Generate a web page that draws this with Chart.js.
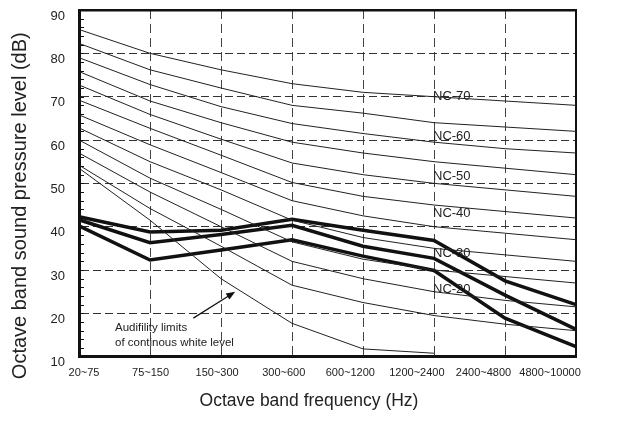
<!DOCTYPE html>
<html>
<head>
<meta charset="utf-8">
<script src="https://cdn.jsdelivr.net/npm/chart.js@4.4.1/dist/chart.umd.min.js"></script>
<style>
  html, body { margin: 0; padding: 0; background: #fff; }
  #c { display: block; }
</style>
</head>
<body>
<canvas id="c" width="618" height="436"></canvas>
<script>
// bandas de oitava
var bands = ['20~75', '75~150', '150~300', '300~600', '600~1200', '1200~2400', '2400~4800', '4800~10000'];

// curvas NC
var nc70 = [85.5, 80.0, 76.2, 73.0, 71.0, 70.0, 69.0, 68.0];
var nc65 = [82.3, 76.2, 72.0, 68.0, 66.2, 64.0, 63.0, 62.0];
var nc60 = [79.0, 72.8, 67.7, 63.8, 61.5, 59.5, 58.0, 57.0];
var nc55 = [75.8, 69.0, 64.0, 59.5, 57.0, 55.0, 53.5, 52.0];
var nc50 = [72.7, 65.9, 60.2, 54.7, 52.0, 50.0, 48.5, 47.0];
var nc45 = [69.2, 62.7, 56.5, 50.2, 47.0, 45.0, 43.5, 42.0];
var nc40 = [65.8, 58.9, 52.5, 46.0, 42.5, 40.0, 38.5, 37.0];
var nc35 = [62.8, 55.0, 48.5, 41.5, 37.5, 35.0, 33.5, 32.0];
var nc30 = [60.0, 51.2, 44.0, 36.5, 32.5, 30.0, 28.5, 27.0];
var nc25 = [57.0, 48.0, 40.0, 32.0, 28.0, 25.0, 23.0, 21.5];
var nc20 = [54.2, 44.2, 35.5, 26.5, 22.5, 19.5, 17.5, 16.0];
var audib = [53.5, 41.5, 28.0, 17.7, 11.8, 10.8, null, null];

// medicoes (linhas grossas)
var measA = [42.3, 38.8, 39.2, 41.7, 39.2, 36.8, 27.5, 22.0];
var measB = [41.6, 36.3, 38.2, 40.3, 35.5, 32.7, 24.2, 16.3];
var measC = [40.2, 32.3, 34.6, 37.0, 33.2, 29.9, 18.9, 12.3];

// rotulos das curvas (na banda 1200~2400)
var ncNames = ['NC-70', 'NC-60', 'NC-50', 'NC-40', 'NC-30', 'NC-20'];
var ncLabelY = [70.0, 60.8, 51.7, 43.1, 33.9, 25.6];
var ncLabelBand = 5;

var noteLines = ['Audifility limits', 'of continous white level'];
var noteX = 0.507, noteY = [16.6, 13.1];
var arrowFrom = [1.61, 18.9], arrowTo = [2.2, 25.0];

var yTicks = [10, 20, 30, 40, 50, 60, 70, 80, 90];

var FONT = '"Liberation Sans", Arial, sans-serif';
var thin = [nc70, nc65, nc60, nc55, nc50, nc45, nc40, nc35, nc30, nc25, nc20, audib];
var thick = [measA, measB, measC];

var datasets = [];
for (var i = 0; i < thin.length; i++) {
    datasets.push({ data: thin[i], borderColor: '#222', borderWidth: 1, pointRadius: 0, tension: 0, fill: false, spanGaps: false });
}
for (var j = 0; j < thick.length; j++) {
    datasets.push({ data: thick[j], borderColor: '#111', borderWidth: 3.5, pointRadius: 0, tension: 0, fill: false, borderJoinStyle: 'miter' });
}

function semPadding(s) {
    s.paddingTop = 0; s.paddingBottom = 0; s.paddingLeft = 0; s.paddingRight = 0;
}

var extras = {
    id: 'extras',
    afterDatasetsDraw: function (chart) {
        var ctx = chart.ctx, xs = chart.scales.x, ys = chart.scales.y;
        ctx.save();
        // marcas menores no eixo y
        ctx.strokeStyle = '#111';
        ctx.lineWidth = 1;
        for (var v = 12; v < 90; v += 2) {
            var py = Math.round(ys.getPixelForValue(v)) + 0.5;
            ctx.beginPath();
            ctx.moveTo(xs.left, py);
            ctx.lineTo(xs.left + 5, py);
            ctx.stroke();
        }
        // rotulos NC
        ctx.fillStyle = '#222';
        ctx.font = '13px ' + FONT;
        ctx.textAlign = 'left';
        ctx.textBaseline = 'middle';
        for (var k = 0; k < ncNames.length; k++) {
            ctx.fillText(ncNames[k], xs.getPixelForValue(ncLabelBand) - 1, ys.getPixelForValue(ncLabelY[k]));
        }
        // nota
        ctx.font = '11.5px ' + FONT;
        for (var n = 0; n < noteLines.length; n++) {
            ctx.fillText(noteLines[n], xs.getPixelForValue(noteX), ys.getPixelForValue(noteY[n]));
        }
        // seta
        var x1 = xs.getPixelForValue(arrowFrom[0]), y1 = ys.getPixelForValue(arrowFrom[1]);
        var x2 = xs.getPixelForValue(arrowTo[0]), y2 = ys.getPixelForValue(arrowTo[1]);
        var ang = Math.atan2(y2 - y1, x2 - x1);
        ctx.strokeStyle = '#111';
        ctx.lineWidth = 1.2;
        ctx.beginPath();
        ctx.moveTo(x1, y1);
        ctx.lineTo(x2 - 6 * Math.cos(ang), y2 - 6 * Math.sin(ang));
        ctx.stroke();
        ctx.fillStyle = '#111';
        ctx.beginPath();
        ctx.moveTo(x2, y2);
        ctx.lineTo(x2 - 9 * Math.cos(ang) + 3.5 * Math.sin(ang), y2 - 9 * Math.sin(ang) - 3.5 * Math.cos(ang));
        ctx.lineTo(x2 - 9 * Math.cos(ang) - 3.5 * Math.sin(ang), y2 - 9 * Math.sin(ang) + 3.5 * Math.cos(ang));
        ctx.closePath();
        ctx.fill();
        ctx.restore();
    }
};

new Chart(document.getElementById('c'), {
    type: 'line',
    data: { labels: bands, datasets: datasets },
    plugins: [extras],
    options: {
        responsive: false,
        animation: false,
        devicePixelRatio: 1,
        layout: { padding: { top: 0, left: 0, right: 0, bottom: 24.5 } },
        plugins: {
            legend: { display: false },
            tooltip: { enabled: false },
            title: {
                display: true, position: 'bottom', text: 'Octave band frequency (Hz)',
                color: '#222', font: { family: FONT, size: 17.5, weight: 'normal' },
                padding: { top: 4, bottom: 0 }
            },
            subtitle: {
                display: true, position: 'left', text: 'Octave band sound pressure level (dB)',
                color: '#222', font: { family: FONT, size: 20, weight: 'normal' },
                padding: { top: 8.5, bottom: 0 }
            }
        },
        scales: {
            x: {
                type: 'category', position: 'bottom', offset: false,
                ticks: { display: false },
                grid: { color: '#444', lineWidth: 1, drawTicks: false, offset: false },
                border: { display: true, color: '#111', width: 3, dash: [9, 5] },
                afterFit: function (s) { s.height = 0; semPadding(s); }
            },
            xl: {
                type: 'linear', position: 'bottom', min: -0.075, max: 7.39,
                afterBuildTicks: function (s) {
                    s.ticks = bands.map(function (b, i) { return { value: i }; });
                },
                ticks: {
                    autoSkip: false, maxRotation: 0, padding: 10, color: '#222',
                    font: { family: FONT, size: 11 },
                    callback: function (v) { return bands[v]; }
                },
                grid: { display: false, drawTicks: false },
                border: { display: false },
                afterFit: function (s) { s.height = 29.8; semPadding(s); }
            },
            xt: {
                type: 'linear', position: 'top', min: 0, max: 1,
                ticks: { display: false },
                grid: { display: false, drawTicks: false },
                border: { display: true, color: '#111', width: 2.5 },
                afterFit: function (s) { s.height = 10; semPadding(s); }
            },
            y: {
                type: 'linear', position: 'left', min: 10, max: 90,
                afterBuildTicks: function (s) {
                    s.ticks = yTicks.map(function (v) { return { value: v }; });
                },
                ticks: { padding: 14, labelOffset: 6, color: '#222', font: { family: FONT, size: 13 } },
                grid: { color: '#333', lineWidth: 1, drawTicks: false },
                border: { display: true, color: '#111', width: 3, dash: [8, 4] },
                afterFit: function (s) { s.width = 46.5; semPadding(s); }
            },
            yr: {
                type: 'linear', position: 'right', min: 0, max: 1,
                ticks: { display: false },
                grid: { display: false, drawTicks: false },
                border: { display: true, color: '#111', width: 2 },
                afterFit: function (s) { s.width = 42; semPadding(s); }
            }
        }
    }
});
</script>
</body>
</html>
